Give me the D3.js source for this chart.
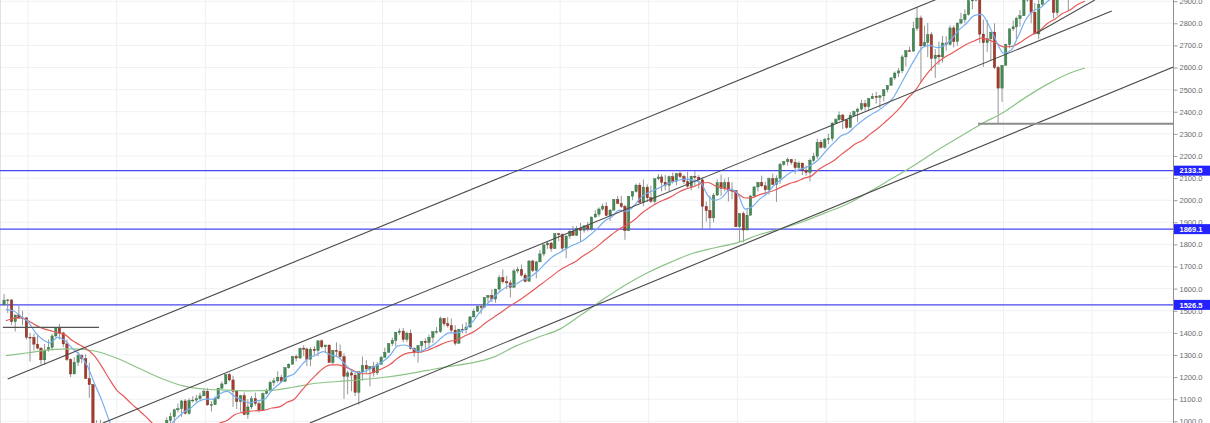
<!DOCTYPE html>
<html><head><meta charset="utf-8">
<script src="https://cdn.jsdelivr.net/npm/d3@7/dist/d3.min.js"></script>
<style>html,body{margin:0;padding:0;background:#fff;overflow:hidden}</style>
</head><body>
<svg id="chart" width="1210" height="423"></svg>
<script>
// ---------- DATA (semi-monthly candles: [high, low, close]; open = previous close) ----------
const firstOpen = 1527;
const hlc2007 = [[1576,1527,1548],[1553,1490,1549],[1552,1435,1451],[1475,1406,1481],[1523,1465,1468],[1500,1435,1468]];
const hlc2008 = [[1471,1370,1380],[1400,1270,1379],[1396,1320,1349],[1388,1325,1331],[1335,1257,1278],[1350,1256,1322],[1370,1315,1335],[1396,1320,1386],[1425,1380,1423],[1440,1370,1400],[1405,1335,1350],[1370,1272,1280],[1285,1200,1214],[1290,1215,1267],[1313,1250,1298],[1303,1263,1283],[1303,1192,1193],[1265,1106,1166],[1168,839,907],[1005,845,968],[1007,818,873],[900,741,896],[919,815,888],[915,857,903]];
const hlc2009 = [[943,840,843],[878,804,826],[875,800,827],[830,731,735],[775,666,756],[832,750,798],[870,779,852],[875,826,873],[930,866,882],[925,879,919],[956,915,923],[930,888,919],[932,869,932],[993,930,987],[1018,978,1004],[1039,978,1021],[1057,991,1052],[1080,1040,1057],[1096,1020,1092],[1101,1030,1036],[1105,1029,1094],[1113,1085,1096],[1119,1085,1102],[1130,1095,1115]];
const hlc2010 = [[1150,1114,1136],[1150,1071,1074],[1091,1044,1075],[1112,1075,1104],[1150,1100,1150],[1180,1145,1169],[1214,1167,1211],[1219,1180,1187],[1206,1065,1136],[1140,1056,1089],[1120,1043,1116],[1131,1028,1031],[1100,1011,1065],[1115,1056,1102],[1130,1070,1080],[1095,1040,1049],[1130,1049,1125],[1148,1122,1141],[1184,1131,1176],[1196,1160,1183],[1227,1175,1199],[1210,1173,1181],[1246,1180,1242],[1262,1238,1258]];
const hlc2011 = [[1296,1258,1293],[1302,1271,1286],[1333,1283,1330],[1344,1294,1327],[1333,1249,1281],[1335,1249,1326],[1339,1294,1320],[1365,1294,1364],[1370,1329,1337],[1345,1311,1345],[1346,1265,1266],[1322,1258,1321],[1357,1295,1316],[1347,1283,1292],[1307,1101,1204],[1230,1122,1219],[1230,1136,1209],[1220,1114,1131],[1225,1075,1224],[1293,1185,1253],[1277,1215,1237],[1250,1158,1247],[1269,1202,1219],[1268,1209,1258]];
const hlc2012 = [[1296,1258,1289],[1333,1289,1312],[1354,1310,1351],[1378,1340,1366],[1405,1340,1402],[1420,1390,1408],[1422,1357,1370],[1406,1358,1398],[1415,1324,1330],[1335,1292,1310],[1345,1266,1342],[1363,1309,1362],[1375,1325,1356],[1392,1329,1379],[1406,1354,1405],[1426,1397,1406],[1474,1400,1465],[1467,1430,1441],[1471,1424,1433],[1465,1403,1412],[1434,1343,1353],[1418,1353,1416],[1439,1398,1414],[1448,1398,1426]];
const hlc2013 = [[1475,1426,1472],[1510,1470,1498],[1525,1495,1520],[1530,1485,1515],[1563,1515,1560],[1570,1538,1569],[1597,1540,1553],[1598,1536,1598],[1661,1590,1650],[1687,1623,1631],[1658,1598,1626],[1640,1560,1606],[1690,1605,1680],[1698,1670,1686],[1709,1655,1661],[1670,1627,1633],[1729,1633,1725],[1730,1675,1682],[1725,1646,1721],[1775,1720,1757],[1800,1746,1798],[1813,1780,1806],[1811,1767,1781],[1849,1780,1848]];
const hlc2014 = [[1850,1815,1845],[1850,1770,1783],[1840,1737,1838],[1867,1825,1859],[1883,1839,1841],[1884,1839,1872],[1897,1814,1864],[1885,1853,1884],[1902,1859,1870],[1925,1862,1924],[1955,1920,1937],[1968,1925,1960],[1985,1952,1973],[1991,1930,1931],[1960,1905,1955],[2005,1955,2003],[2019,1985,1985],[2020,1965,1972],[1980,1821,1862],[2019,1860,2018],[2041,2000,2039],[2075,2035,2068],[2079,1990,1990],[2094,1973,2059]];
const hlc2015 = [[2072,1992,2011],[2065,1988,1995],[2097,1980,2097],[2119,2090,2105],[2117,2040,2081],[2114,2045,2068],[2111,2040,2106],[2125,2075,2086],[2121,2068,2121],[2135,2100,2107],[2115,2073,2084],[2128,2056,2063],[2111,2044,2108],[2133,2063,2104],[2114,2052,2092],[2103,1867,1972],[1994,1903,1953],[2021,1871,1920],[2033,1900,2023],[2094,2020,2079],[2116,2019,2054],[2097,2040,2080],[2104,1994,2043],[2081,2005,2044]];
const hlc2016 = [[2044,1880,1880],[1940,1812,1940],[1948,1810,1865],[1962,1865,1932],[2024,1932,2019],[2063,2019,2060],[2082,2039,2080],[2111,2060,2065],[2084,2033,2047],[2103,2025,2097],[2120,2070,2071],[2113,1992,2099],[2170,2074,2162],[2178,2155,2174],[2193,2157,2184],[2187,2160,2171],[2187,2119,2147],[2176,2139,2168],[2169,2114,2133],[2156,2111,2126],[2188,2084,2180],[2214,2172,2199],[2278,2187,2262],[2273,2233,2239]];
const hlc2017 = [[2282,2233,2275],[2300,2254,2279],[2352,2267,2349],[2371,2345,2364],[2401,2359,2385],[2390,2322,2363],[2366,2322,2329],[2398,2328,2384],[2405,2380,2400],[2418,2353,2412],[2454,2405,2437],[2453,2405,2423],[2463,2407,2459],[2484,2458,2470],[2490,2437,2465],[2475,2417,2472],[2500,2446,2500],[2519,2488,2519],[2557,2519,2553],[2582,2544,2575],[2597,2557,2585],[2657,2575,2648],[2679,2605,2676],[2694,2672,2674]];
const hlc2018 = [[2807,2673,2776],[2873,2766,2824],[2835,2533,2698],[2790,2693,2714],[2802,2647,2748],[2760,2585,2641],[2683,2553,2656],[2718,2612,2648],[2743,2622,2711],[2742,2676,2705],[2791,2699,2779],[2790,2691,2718],[2804,2699,2801],[2848,2795,2816],[2863,2802,2840],[2916,2835,2902],[2912,2864,2905],[2941,2899,2914],[2939,2710,2751],[2817,2603,2712],[2815,2671,2730],[2761,2631,2760],[2800,2593,2600],[2608,2346,2507]];
const hlc2019 = [[2611,2444,2610],[2708,2610,2704],[2776,2687,2775],[2813,2765,2784],[2830,2729,2822],[2860,2786,2834],[2910,2834,2905],[2949,2898,2946],[2954,2800,2850],[2892,2750,2752],[2910,2728,2886],[2964,2880,2942],[3017,2942,3014],[3028,2966,2980],[3013,2822,2848],[2940,2834,2926],[3021,2906,3007],[3016,2945,2977],[2998,2855,2966],[3050,2966,3037],[3102,3037,3096],[3155,3090,3141],[3160,3070,3141]];

// moving averages (monthly, starting 2007-10)
const maStart = [2007, 10];
const blueMA = [1505,1500,1475,
 1450,1400,1370,1355,1380,1365,1330,1300,1250,1170,1090,1000,
 920,860,790,790,850,900,930,975,1010,1040,1060,1088,
 1100,1100,1125,1135,1112,1095,1083,1092,1100,1140,1170,1200,
 1215,1255,1285,1300,1315,1300,1290,1255,1225,1220,1232,1250,
 1270,1300,1340,1345,1330,1315,1330,1350,1380,1400,1400,1415,
 1445,1490,1525,1560,1590,1612,1620,1640,1655,1680,1715,1745,
 1765,1785,1800,1815,1840,1870,1905,1925,1955,1950,1975,2015,
 2035,2050,2065,2080,2090,2095,2090,2080,2020,2000,2015,2050,
 2030,1960,1970,2005,2030,2070,2095,2122,2135,2145,2160,2185,
 2225,2260,2290,2305,2335,2363,2385,2405,2430,2460,2520,2580,
 2640,2690,2700,2690,2700,2730,2770,2800,2835,2840,2790,2720,
 2665,2680,2740,2815,2855,2870,2900,2920,2930,2950,3000,3060];
const redMA = [1455,1465,1468,
 1455,1435,1420,1410,1400,1392,1365,1345,1325,1295,1245,1190,
 1140,1110,1080,1050,1020,985,955,930,915,915,930,955,
 970,980,992,1005,1030,1040,1045,1048,1050,1060,1065,1085,
 1100,1140,1175,1210,1240,1255,1255,1245,1230,1215,1215,1225,
 1240,1258,1285,1305,1312,1313,1320,1335,1350,1362,1367,1385,
 1400,1422,1447,1470,1492,1517,1537,1560,1585,1610,1635,1660,
 1685,1705,1720,1745,1766,1790,1818,1845,1870,1888,1910,1940,
 1965,1985,2000,2015,2035,2050,2060,2075,2080,2065,2055,2045,
 2030,2010,2012,2025,2035,2045,2060,2075,2085,2100,2110,2140,
 2160,2180,2205,2230,2255,2272,2300,2325,2355,2385,2420,2460,
 2495,2545,2585,2620,2645,2665,2685,2705,2720,2733,2725,2710,
 2693,2695,2708,2730,2750,2770,2800,2820,2845,2860,2885,2900];
const greenDates = ["2007-10","2008-01","2008-04","2008-07","2008-10","2009-01","2009-04","2009-07","2009-10",
 "2010-01","2010-04","2010-07","2010-10","2011-01","2011-04","2011-07","2011-10","2012-01","2012-04","2012-07","2012-10",
 "2013-01","2013-04","2013-07","2013-10","2014-01","2014-04","2014-07","2014-10","2015-01","2015-04","2015-07","2015-10",
 "2016-01","2016-04","2016-07","2016-10","2017-01","2017-04","2017-07","2017-10","2018-01","2018-04","2018-07","2018-10",
 "2019-01","2019-04","2019-07","2019-10","2019-12"];
const greenMA = [1297,1310,1324,1328,1318,1285,1240,1195,1160,
 1145,1141,1138,1140,1155,1172,1180,1188,1198,1212,1230,1248,
 1264,1290,1340,1380,1418,1485,1555,1620,1675,1720,1760,1785,
 1808,1845,1872,1905,1945,1985,2040,2100,2160,2225,2285,2345,
 2398,2465,2525,2575,2598];

// horizontal levels (blue) and drawn trend lines: [year, month, day, price]
const levels = [2133.5, 1869.1, 1526.5];
const channelLines = [
  [[2007,10,23,1191],[2018,7,1,2944]],
  [[2008,11,18,992],[2020,4,4,2856]],
  [[2011,3,20,992],[2021,3,14,2643]],
  [[2019,5,29,2755],[2020,1,25,2905]]
];
const resistanceLine = [[2007,10,3,1425],[2008,11,2,1425]];
const supportLine = [[2018,10,1,2346],[2021,3,1,2346]];
const priceTicks = [1000,1100,1200,1300,1400,1500,1600,1700,1800,1900,2000,2100,2200,2300,2400,2500,2600,2700,2800,2900];
const gridYears = [2008,2009,2010,2011,2012,2013,2014,2015,2016,2017,2018,2019,2020];

// ---------- BUILD ----------
const blocks = [[2007,9,hlc2007],[2008,0,hlc2008],[2009,0,hlc2009],[2010,0,hlc2010],[2011,0,hlc2011],[2012,0,hlc2012],
  [2013,0,hlc2013],[2014,0,hlc2014],[2015,0,hlc2015],[2016,0,hlc2016],[2017,0,hlc2017],[2018,0,hlc2018],[2019,0,hlc2019]];
const candles = [];
let prevClose = firstOpen;
blocks.forEach(([yr, m0, arr]) => arr.forEach((d, i) => {
  const p = m0 * 2 + i;
  candles.push({date: new Date(yr, Math.floor(p / 2), p % 2 ? 23 : 8), o: prevClose, h: d[0], l: d[1], c: d[2]});
  prevClose = d[2];
}));
const monthDate = i => new Date(maStart[0], maStart[1] - 1 + i, 15);
const blueSeries = blueMA.map((v, i) => ({date: monthDate(i), v}));
const redSeries = redMA.map((v, i) => ({date: monthDate(i), v}));
const greenSeries = greenMA.map((v, i) => {
  const [yy, mm] = greenDates[i].split("-").map(Number);
  return {date: new Date(yy, mm - 1, 15), v};
});

const W = 1210, H = 423, axisX = 1173;
const x = d3.scaleTime().domain([new Date(2008, 0, 1), new Date(2018, 0, 1)]).range([24.7, 911.7]);
const y = d3.scaleLinear().domain([1000, 2800]).range([421.3, 23.3]);
const pt = a => [x(new Date(a[0], a[1] - 1, a[2])), y(a[3])];

const svg = d3.select("#chart");
svg.append("defs").append("clipPath").attr("id", "plot")
  .append("rect").attr("x", 0).attr("y", 0).attr("width", axisX).attr("height", H);

// grid
const grid = svg.append("g").attr("clip-path", "url(#plot)");
grid.selectAll(".hg").data(priceTicks).join("line")
  .attr("x1", 0).attr("x2", axisX).attr("y1", d => y(d)).attr("y2", d => y(d))
  .attr("stroke", "#eef0f3").attr("stroke-width", 1);
grid.selectAll(".vg").data(gridYears).join("line")
  .attr("x1", d => x(new Date(d, 0, 14))).attr("x2", d => x(new Date(d, 0, 14)))
  .attr("y1", 0).attr("y2", H).attr("stroke", "#eef0f3").attr("stroke-width", 1);
svg.append("line").attr("x1", 0.5).attr("x2", 0.5).attr("y1", 0).attr("y2", H).attr("stroke", "#dfe2ea");

const plot = svg.append("g").attr("clip-path", "url(#plot)");

// blue level lines
plot.selectAll(".lvl").data(levels).join("line")
  .attr("x1", 0).attr("x2", axisX).attr("y1", d => y(d)).attr("y2", d => y(d))
  .attr("stroke", "#4646f2").attr("stroke-width", 1.1);

// candles
const cg = plot.append("g");
const bw = 2.4;
cg.selectAll(".wick").data(candles).join("line")
  .attr("x1", d => x(d.date)).attr("x2", d => x(d.date))
  .attr("y1", d => y(d.h)).attr("y2", d => y(d.l))
  .attr("stroke", "#8a8a8a").attr("stroke-width", 0.9);
cg.selectAll(".body").data(candles).join("rect")
  .attr("x", d => x(d.date) - bw / 2).attr("width", bw)
  .attr("y", d => y(Math.max(d.o, d.c)))
  .attr("height", d => Math.max(0.8, Math.abs(y(d.o) - y(d.c))))
  .attr("fill", d => d.c >= d.o ? "#468a55" : "#a53b2c")
  .attr("stroke", d => d.c >= d.o ? "#2f6a3d" : "#722719").attr("stroke-width", 0.4);

// moving averages
const ln = d3.line().x(d => x(d.date)).y(d => y(d.v)).curve(d3.curveMonotoneX);
plot.append("path").datum(greenSeries).attr("d", ln).attr("fill", "none").attr("stroke", "#8cc487").attr("stroke-width", 1.2);
plot.append("path").datum(redSeries).attr("d", ln).attr("fill", "none").attr("stroke", "#e65a58").attr("stroke-width", 1.2);
plot.append("path").datum(blueSeries).attr("d", ln).attr("fill", "none").attr("stroke", "#76aef0").attr("stroke-width", 1.2);

// drawings
plot.selectAll(".ch").data(channelLines).join("line")
  .attr("x1", d => pt(d[0])[0]).attr("y1", d => pt(d[0])[1])
  .attr("x2", d => pt(d[1])[0]).attr("y2", d => pt(d[1])[1])
  .attr("stroke", "#4a4a4a").attr("stroke-width", 1.1);
plot.append("line")
  .attr("x1", pt(resistanceLine[0])[0]).attr("y1", pt(resistanceLine[0])[1])
  .attr("x2", pt(resistanceLine[1])[0]).attr("y2", pt(resistanceLine[1])[1])
  .attr("stroke", "#555").attr("stroke-width", 1.4);
plot.append("line")
  .attr("x1", pt(supportLine[0])[0]).attr("y1", pt(supportLine[0])[1])
  .attr("x2", pt(supportLine[1])[0]).attr("y2", pt(supportLine[1])[1])
  .attr("stroke", "#8c8c8c").attr("stroke-width", 2);

// price axis
svg.append("line").attr("x1", axisX + 0.5).attr("x2", axisX + 0.5).attr("y1", 0).attr("y2", H)
  .attr("stroke", "#8f8f8f").attr("stroke-width", 1);
const ax = svg.append("g").attr("transform", `translate(${axisX + 0.5},0)`)
  .call(d3.axisRight(y).tickValues(priceTicks).tickFormat(d3.format(".1f")).tickSize(4).tickPadding(2).tickSizeOuter(0));
ax.select(".domain").remove();
ax.selectAll(".tick line").attr("stroke", "#9a9a9a");
ax.selectAll(".tick text").attr("fill", "#6a6a6a")
  .style("font-family", "'Liberation Sans', Arial, sans-serif").style("font-size", "7.5px");

// level labels
const lg = svg.append("g");
lg.selectAll("rect").data(levels).join("rect")
  .attr("x", axisX + 1).attr("y", d => y(d) - 5).attr("width", W - axisX).attr("height", 10)
  .attr("fill", "#2323ff");
lg.selectAll("text").data(levels).join("text")
  .attr("x", axisX + 6.5).attr("y", d => y(d)).attr("dy", "0.35em")
  .attr("fill", "#fff").style("font-family", "'Liberation Sans', Arial, sans-serif")
  .style("font-size", "7.5px").style("font-weight", "bold")
  .text(d => d3.format(".1f")(d));
</script>
</body></html>
